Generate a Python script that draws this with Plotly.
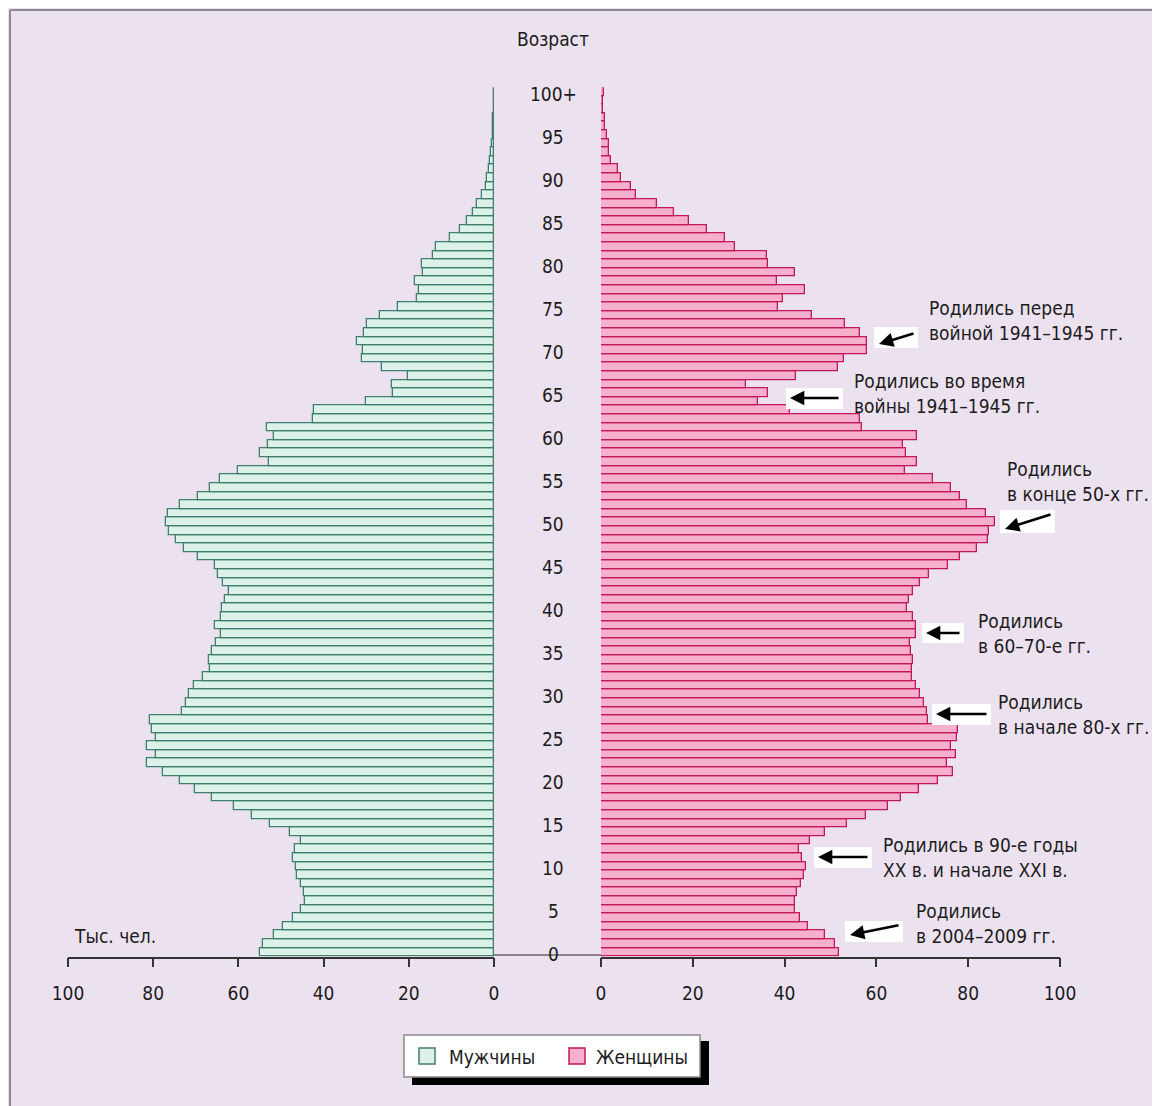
import plotly.graph_objects as go

W, H = 1160, 1106
OFF = 8  # page body margin in the browser

ages = list(range(0, 101))

# Males, thousand persons, age 0 .. 100+
male = [54.9, 54.2, 51.6, 49.5, 47.3, 45.4, 44.4, 44.7, 45.2, 46.2,
        46.5, 47.2, 46.7, 45.4, 48.0, 52.6, 56.9, 61.1, 66.2, 70.1,
        73.8, 77.7, 81.4, 79.4, 81.4, 79.4, 80.4, 80.7, 73.3, 72.2,
        71.7, 70.4, 68.3, 66.7, 66.9, 66.2, 65.3, 64.2, 65.6, 64.2,
        63.8, 63.1, 62.2, 63.5, 64.8, 65.5, 69.4, 72.8, 74.6, 76.3,
        77.0, 76.5, 73.6, 69.4, 66.7, 64.4, 60.1, 52.9, 55.0, 53.0,
        51.7, 53.4, 42.5, 42.2, 30.0, 23.8, 24.0, 20.3, 26.4, 30.9,
        30.7, 32.2, 30.5, 29.9, 26.8, 22.6, 18.0, 17.6, 18.6, 16.7,
        17.0, 14.4, 13.5, 10.4, 7.9, 6.3, 4.9, 4.1, 2.9, 1.9,
        1.6, 1.2, 0.9, 0.6, 0.4, 0.3, 0.23, 0.15, 0.1, 0.1,
        0.1]

# Females, thousand persons, age 0 .. 100+
female = [51.8, 50.9, 48.9, 45.0, 43.4, 42.2, 42.3, 42.7, 43.6, 44.2,
          44.7, 43.8, 43.2, 45.5, 48.9, 53.7, 57.7, 62.6, 65.4, 69.3,
          73.4, 76.6, 75.4, 77.3, 76.3, 77.6, 77.8, 71.3, 71.0, 70.4,
          69.6, 68.7, 67.7, 67.7, 68.0, 67.6, 67.4, 68.6, 68.6, 68.0,
          66.6, 67.1, 67.9, 69.6, 71.5, 75.5, 78.3, 81.9, 84.4, 84.6,
          85.8, 83.9, 79.7, 78.3, 76.2, 72.4, 66.2, 68.8, 66.4, 65.9,
          68.9, 56.9, 56.4, 41.2, 34.1, 36.3, 31.5, 42.4, 51.7, 53.0,
          57.9, 57.9, 56.4, 53.2, 46.0, 38.6, 39.6, 44.4, 38.3, 42.3,
          36.3, 36.2, 29.3, 27.1, 23.2, 19.2, 16.0, 12.3, 7.6, 6.6,
          4.4, 3.6, 2.1, 1.8, 1.7, 1.4, 0.9, 0.87, 0.5, 0.5,
          0.7]

age_label_vals = [0, 5, 10, 15, 20, 25, 30, 35, 40, 45, 50, 55, 60, 65, 70, 75, 80, 85, 90, 95, 100]
age_label_text = [str(a) for a in age_label_vals[:-1]] + ["100+"]
x_ticks = [0, 20, 40, 60, 80, 100]

notes = [
    "Родились перед<br>войной 1941–1945 гг.",
    "Родились во время<br>войны 1941–1945 гг.",
    "Родились<br>в конце 50-х гг.",
    "Родились<br>в 60–70-е гг.",
    "Родились<br>в начале 80-х гг.",
    "Родились в 90-е годы<br>XX в. и начале XXI в.",
    "Родились<br>в 2004–2009 гг.",
]

FONT = "Liberation Sans Narrow, Arial Narrow, DejaVu Sans Condensed, sans-serif"
BG = "#ece2ef"
TXT = "#1c1c1c"


def px(x):
    return (x - OFF) / W


def py(y):
    return 1 - (y - OFF) / H


fig = go.Figure()
fig.add_trace(go.Bar(y=ages, x=male, orientation="h", xaxis="x", yaxis="y",
                     marker=dict(color="#dcf2e9", line=dict(color="#3f7f6f", width=1.3)),
                     name="Мужчины", showlegend=False, hoverinfo="x+y"))
fig.add_trace(go.Bar(y=ages, x=female, orientation="h", xaxis="x2", yaxis="y",
                     marker=dict(color="#f7b0cb", line=dict(color="#c0175d", width=1.3)),
                     name="Женщины", showlegend=False, hoverinfo="x+y"))

axis_common = dict(tickvals=x_ticks, ticktext=[str(v) for v in x_ticks],
                   ticks="outside", ticklen=9, tickwidth=1.5, tickcolor="#333",
                   showline=True, linecolor="#333", linewidth=1.5,
                   showgrid=False, zeroline=False, anchor="y", automargin=False,
                   tickfont=dict(family=FONT, size=19, color=TXT),
                   ticklabelstandoff=10, fixedrange=True)

fig.update_layout(
    template="none",
    width=W, height=H, autosize=False,
    margin=dict(l=0, r=0, t=0, b=0, pad=0, autoexpand=False),
    paper_bgcolor=BG, plot_bgcolor=BG,
    bargap=0,
    xaxis=dict(domain=[px(68), px(494)], range=[100, 0], **axis_common),
    xaxis2=dict(domain=[px(601), px(1060)], range=[0, 100], **axis_common),
    yaxis=dict(domain=[py(956.5), py(87.2)], range=[-0.5, 100.5], visible=False,
               fixedrange=True, automargin=False),
    font=dict(family=FONT, color=TXT),
    showlegend=False,
)

shapes = []
annotations = []

# frame lines
shapes.append(dict(type="line", xref="paper", yref="paper", x0=px(10), x1=px(10), y0=0, y1=py(10),
                   line=dict(color="#8c8c8c", width=2)))
shapes.append(dict(type="line", xref="paper", yref="paper", x0=px(10), x1=1, y0=py(10), y1=py(10),
                   line=dict(color="#8c8c8c", width=2)))
# connecting baseline between the two panels
shapes.append(dict(type="line", xref="paper", yref="paper", x0=px(494), x1=px(601), y0=py(955), y1=py(955),
                   line=dict(color="#666", width=1.5)))

# age labels in the middle
for a, t in zip(age_label_vals, age_label_text):
    annotations.append(dict(x=px(553), xref="paper", y=a, yref="y", text=t, showarrow=False,
                            xanchor="center", yanchor="middle", yshift=-2,
                            font=dict(family=FONT, size=19, color=TXT)))

annotations.append(dict(x=px(553), y=py(39), xref="paper", yref="paper", text="Возраст",
                        showarrow=False, xanchor="center", yanchor="middle",
                        font=dict(family=FONT, size=19, color=TXT)))
annotations.append(dict(x=px(72), y=py(936), xref="paper", yref="paper", text="Тыс. чел.",
                        showarrow=False, xanchor="left", yanchor="middle",
                        font=dict(family=FONT, size=19, color=TXT)))

# notes: (text x, text center y, box x0, y0, x1, y1, tail x, tail y, head x, head y)
note_geom = [
    (927, 321, 874, 327, 918, 348, 915, 333, 879, 344),
    (852, 393, 786, 388, 843, 409, 840, 398, 790, 398),
    (1005, 481.5, 1000, 510, 1055, 533, 1052, 514, 1005, 529),
    (976, 633.5, 922, 623, 964, 643, 961, 633, 926, 633),
    (996, 714.5, 932, 704, 991, 725, 988, 714, 936, 714),
    (881, 857, 814, 847, 872, 868, 869, 857, 818, 857),
    (914, 923, 845, 921, 903, 942, 900, 925, 850, 935),
]
for txt, g in zip(notes, note_geom):
    tx, ty, bx0, by0, bx1, by1, ax_, ay_, hx, hy = g
    shapes.append(dict(type="rect", xref="paper", yref="paper", x0=px(bx0), x1=px(bx1),
                       y0=py(by1), y1=py(by0), fillcolor="white", line=dict(width=0)))
    annotations.append(dict(x=px(tx), y=py(ty), xref="paper", yref="paper", text=txt,
                            showarrow=False, xanchor="left", yanchor="middle", align="left",
                            font=dict(family=FONT, size=19, color=TXT)))
    annotations.append(dict(x=px(hx), y=py(hy), xref="paper", yref="paper", text="",
                            showarrow=True, ax=ax_ - hx, ay=ay_ - hy, axref="pixel", ayref="pixel",
                            arrowhead=2, arrowsize=1.1, arrowwidth=2.6, arrowcolor="#000",
                            standoff=0, startstandoff=0))

# legend (drawn manually with drop shadow)
shapes.append(dict(type="rect", xref="paper", yref="paper", x0=px(412), x1=px(709),
                   y0=py(1085), y1=py(1041), fillcolor="#000", line=dict(width=0)))
shapes.append(dict(type="rect", xref="paper", yref="paper", x0=px(404), x1=px(700),
                   y0=py(1077), y1=py(1035), fillcolor="white", line=dict(color="#8a8a8a", width=1.5)))
shapes.append(dict(type="rect", xref="paper", yref="paper", x0=px(419), x1=px(435),
                   y0=py(1064), y1=py(1048), fillcolor="#dcf2e9", line=dict(color="#3f7f6f", width=1.5)))
shapes.append(dict(type="rect", xref="paper", yref="paper", x0=px(569), x1=px(585),
                   y0=py(1064), y1=py(1048), fillcolor="#f7b0cb", line=dict(color="#c0175d", width=1.5)))
annotations.append(dict(x=px(447), y=py(1057), xref="paper", yref="paper", text="Мужчины",
                        showarrow=False, xanchor="left", yanchor="middle",
                        font=dict(family=FONT, size=19, color=TXT)))
annotations.append(dict(x=px(594), y=py(1057), xref="paper", yref="paper", text="Женщины",
                        showarrow=False, xanchor="left", yanchor="middle",
                        font=dict(family=FONT, size=19, color=TXT)))

fig.update_layout(shapes=shapes, annotations=annotations)
fig.write_html("out.html", config={"responsive": False})
